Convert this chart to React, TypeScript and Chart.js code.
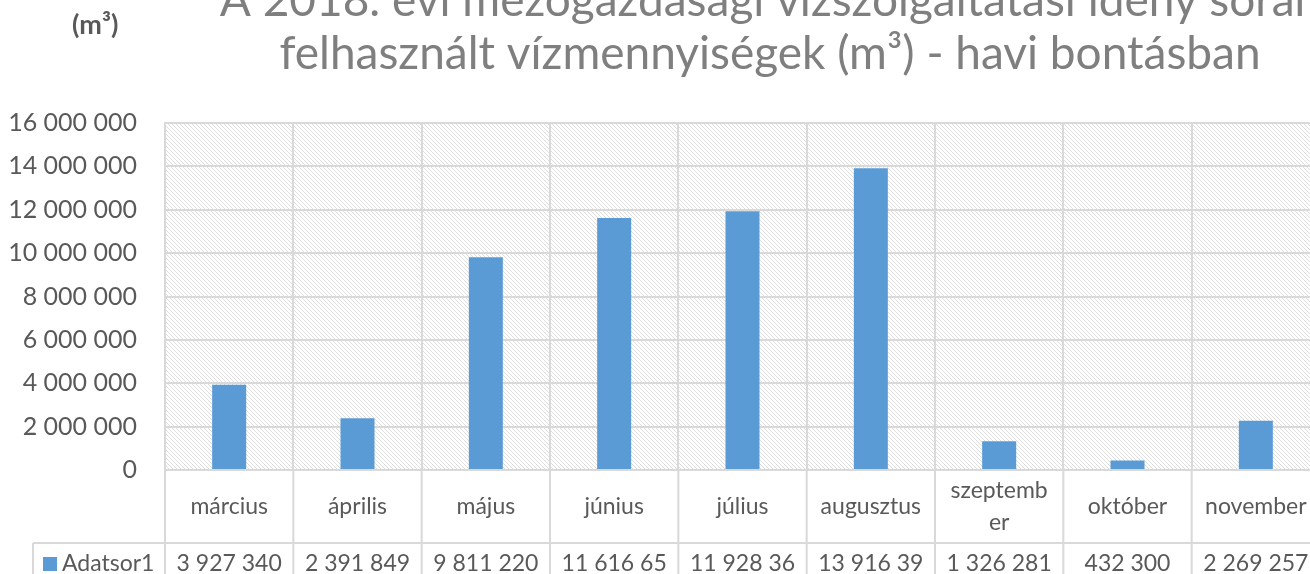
import React, { useEffect, useRef } from "react";
import { Chart, registerables } from "chart.js";

Chart.register(...registerables);

const titleLines = [
  "A 2018. évi mezőgazdasági vízszolgáltatási idény során",
  "felhasznált vízmennyiségek (m³) - havi bontásban",
];
const unitLabel = "(m³)";
const seriesName = "Adatsor1";
const categories = [
  "március",
  "április",
  "május",
  "június",
  "július",
  "augusztus",
  "szeptember",
  "október",
  "november",
];
const values = [3927340, 2391849, 9811220, 11616650, 11928360, 13916390, 1326281, 432300, 2269257];
const yMin = 0;
const yMax = 16000000;
const yStep = 2000000;

const FONT = "Lato, 'Noto Sans', sans-serif";
const TEXT = "#595959";
const GRID = "#d9d9d9";
const BAR = "#5B9BD5";

const fmt = (v: number) => String(Math.round(v)).replace(/\B(?=(\d{3})+(?!\d))/g, " ");

function wrapChars(ctx: CanvasRenderingContext2D, text: string, maxW: number): string[] {
  const lines: string[] = [];
  let cur = "";
  for (const ch of Array.from(text)) {
    if (cur && ctx.measureText(cur + ch).width > maxW) {
      lines.push(cur);
      cur = ch;
    } else {
      cur += ch;
    }
  }
  if (cur) lines.push(cur);
  return lines;
}

const hatchPlugin = {
  id: "hatch",
  beforeDraw(chart: any) {
    const { ctx, chartArea } = chart;
    const tile = document.createElement("canvas");
    const n = 4;
    tile.width = n;
    tile.height = n;
    const t = tile.getContext("2d")!;
    t.fillStyle = "#ffffff";
    t.fillRect(0, 0, n, n);
    t.strokeStyle = "#dedede";
    t.lineWidth = 1;
    t.beginPath();
    t.moveTo(-1, -1);
    t.lineTo(n + 1, n + 1);
    t.moveTo(-1, n - 1);
    t.lineTo(1, n + 1);
    t.moveTo(n - 1, -1);
    t.lineTo(n + 1, 1);
    t.stroke();
    const pat = ctx.createPattern(tile, "repeat");
    ctx.save();
    ctx.fillStyle = pat;
    ctx.fillRect(chartArea.left, chartArea.top, chartArea.right - chartArea.left, chartArea.bottom - chartArea.top);
    ctx.restore();
  },
};

const decorPlugin = {
  id: "decor",
  afterDraw(chart: any) {
    const { ctx, chartArea } = chart;
    const x = chart.scales.x;
    const n = categories.length;
    const colW = (chartArea.right - chartArea.left) / n;
    const top = chartArea.bottom;
    const row2 = top + 73;
    const bottom = chart.height + 40;
    const legendLeft = 33;

    ctx.save();
    // table lines
    ctx.strokeStyle = GRID;
    ctx.lineWidth = 2;
    ctx.beginPath();
    for (let i = 0; i <= n; i++) {
      const xx = chartArea.left + i * colW;
      ctx.moveTo(xx, top);
      ctx.lineTo(xx, bottom);
    }
    ctx.moveTo(legendLeft, row2);
    ctx.lineTo(chartArea.right, row2);
    ctx.moveTo(legendLeft, row2);
    ctx.lineTo(legendLeft, bottom);
    ctx.stroke();

    // category labels
    ctx.fillStyle = TEXT;
    ctx.font = `23px ${FONT}`;
    ctx.textAlign = "center";
    ctx.textBaseline = "alphabetic";
    categories.forEach((c, i) => {
      const cx = x.getPixelForValue(i);
      const lines = wrapChars(ctx, c, colW - 20);
      lines.forEach((ln, j) => {
        ctx.fillText(ln, cx, top + 44 + (j - (lines.length - 1) / 2) * 32);
      });
    });

    // values row
    values.forEach((v, i) => {
      const cx = x.getPixelForValue(i);
      const lines = wrapChars(ctx, fmt(v), colW - 20);
      lines.forEach((ln, j) => {
        ctx.fillText(ln, cx, row2 + 28 + j * 32);
      });
    });

    // legend key
    ctx.fillStyle = BAR;
    ctx.fillRect(43, row2 + 14, 14, 14);
    ctx.fillStyle = TEXT;
    ctx.textAlign = "left";
    ctx.fillText(seriesName, 62, row2 + 28);

    // unit label
    ctx.font = `bold 27px ${FONT}`;
    ctx.fillStyle = TEXT;
    ctx.fillText(unitLabel, 72, 34);

    // title
    ctx.font = `46px ${FONT}`;
    ctx.fillStyle = "#7f7f7f";
    ctx.textAlign = "center";
    titleLines.forEach((ln, j) => {
      ctx.fillText(ln, 770, 16 + j * 53);
    });
    ctx.restore();
  },
};

export default function App() {
  const ref = useRef<HTMLCanvasElement | null>(null);
  useEffect(() => {
    if (!ref.current) return;
    Chart.defaults.font.family = FONT;
    const chart = new Chart(ref.current, {
      type: "bar",
      data: {
        labels: categories,
        datasets: [
          {
            label: seriesName,
            data: values,
            backgroundColor: BAR,
            borderWidth: 0,
            barPercentage: 0.265,
            categoryPercentage: 1,
          },
        ],
      },
      options: {
        responsive: false,
        animation: false,
        layout: { padding: { top: 123, right: 10, left: 0, bottom: 0 } },
        plugins: {
          legend: { display: false },
          title: { display: false },
          tooltip: { enabled: false },
        },
        scales: {
          x: {
            grid: { color: GRID, lineWidth: 2, drawTicks: false, offset: true },
            border: { color: GRID, width: 2 },
            ticks: { display: false },
            afterFit: (s: any) => {
              s.height = 104;
            },
          },
          y: {
            min: yMin,
            max: yMax,
            ticks: {
              stepSize: yStep,
              callback: (v: any) => fmt(Number(v)),
              color: TEXT,
              font: { family: FONT, size: 25 },
              padding: 28,
            },
            grid: { color: GRID, lineWidth: 2, drawTicks: false },
            border: { color: GRID, width: 2 },
            afterFit: (s: any) => {
              s.width = 165;
            },
          },
        },
      },
      plugins: [hatchPlugin, decorPlugin],
    });
    return () => chart.destroy();
  }, []);

  return (
    <div
      style={{
        position: "fixed",
        left: 0,
        top: 0,
        width: 1310,
        height: 574,
        overflow: "hidden",
        background: "#ffffff",
      }}
    >
      <canvas ref={ref} width={1330} height={574} style={{ display: "block" }} />
    </div>
  );
}
